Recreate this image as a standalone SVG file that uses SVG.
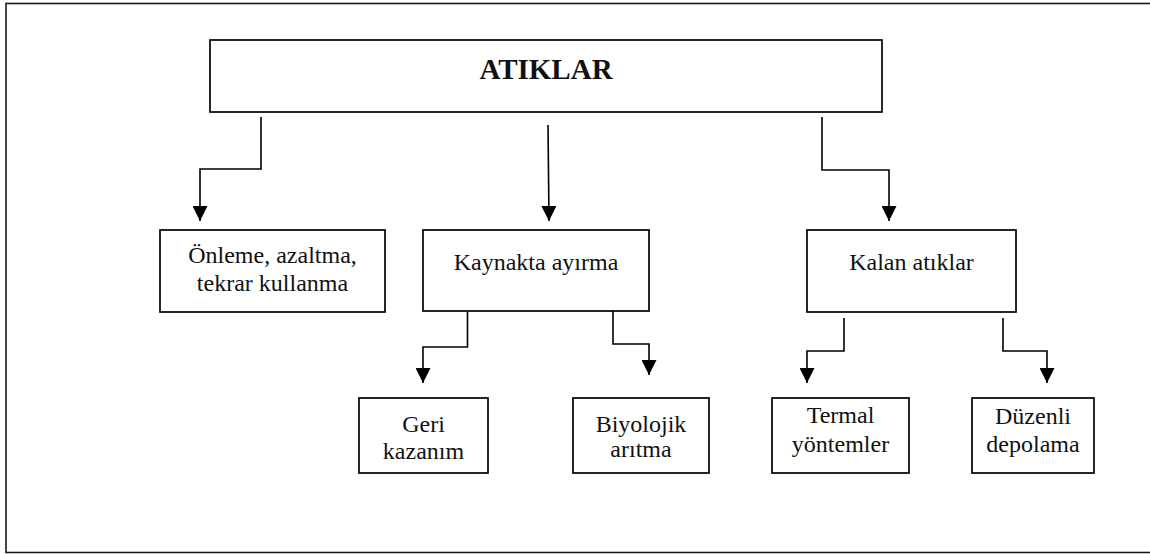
<svg xmlns="http://www.w3.org/2000/svg" width="1150" height="554" viewBox="0 0 1150 554">
  <style>
    .box { fill: #ffffff; stroke: #000000; stroke-width: 1.7; }
    .frame { fill: none; stroke: #1a1a1a; stroke-width: 1.6; }
    .link { fill: none; stroke: #000000; stroke-width: 1.6; marker-end: url(#arrow); }
    .lbl { font-family: "Liberation Serif", "Times New Roman", serif; font-size: 24px; fill: #111111; text-anchor: middle; }
    .title { font-family: "Liberation Serif", "Times New Roman", serif; font-size: 29px; font-weight: bold; fill: #111111; text-anchor: middle; }
  </style>
  <defs>
    <marker id="arrow" markerUnits="userSpaceOnUse" markerWidth="15" markerHeight="15" refX="15" refY="7.5" orient="auto">
      <path d="M0,0 L15,7.5 L0,15 Z" fill="#000000"/>
    </marker>
  </defs>

  <rect width="1150" height="554" fill="#ffffff"/>
  <!-- outer frame -->
  <rect class="frame" x="6" y="3.5" width="1150" height="549"/>

  <!-- connectors -->
  <g id="connectors">
    <path class="link" d="M261,117 V169 H200 V221"/>
    <path class="link" d="M548,125 L549,221"/>
    <path class="link" d="M822,117 V170 H889 V221"/>
    <path class="link" d="M467.5,312 V347 H423 V383"/>
    <path class="link" d="M613,311 V344 H649 V375"/>
    <path class="link" d="M844,318 V351 H807 V383"/>
    <path class="link" d="M1003,318 V351 H1047 V383"/>
  </g>

  <g id="atiklar">
    <rect class="box" x="210" y="40" width="672" height="72"/>
    <text class="title" x="546" y="79">ATIKLAR</text>
  </g>

  <g id="onleme">
    <rect class="box" x="160" y="230" width="225" height="82"/>
    <text class="lbl" x="272.5" y="263">Önleme, azaltma,</text>
    <text class="lbl" x="272.5" y="291">tekrar kullanma</text>
  </g>

  <g id="kaynakta">
    <rect class="box" x="423" y="230" width="226" height="81"/>
    <text class="lbl" x="536" y="270">Kaynakta ayırma</text>
  </g>

  <g id="kalan">
    <rect class="box" x="807" y="230" width="209" height="82"/>
    <text class="lbl" x="911.5" y="270">Kalan atıklar</text>
  </g>

  <g id="geri">
    <rect class="box" x="359" y="398" width="129" height="75"/>
    <text class="lbl" x="423.5" y="431.5">Geri</text>
    <text class="lbl" x="423.5" y="459">kazanım</text>
  </g>

  <g id="biyolojik">
    <rect class="box" x="573" y="398" width="136" height="75"/>
    <text class="lbl" x="641" y="431.5">Biyolojik</text>
    <text class="lbl" x="641" y="457">arıtma</text>
  </g>

  <g id="termal">
    <rect class="box" x="772" y="398" width="137" height="75"/>
    <text class="lbl" x="840.5" y="423">Termal</text>
    <text class="lbl" x="840.5" y="451.5">yöntemler</text>
  </g>

  <g id="duzenli">
    <rect class="box" x="972" y="398" width="122" height="75"/>
    <text class="lbl" x="1033" y="424">Düzenli</text>
    <text class="lbl" x="1033" y="451.5">depolama</text>
  </g>
</svg>
